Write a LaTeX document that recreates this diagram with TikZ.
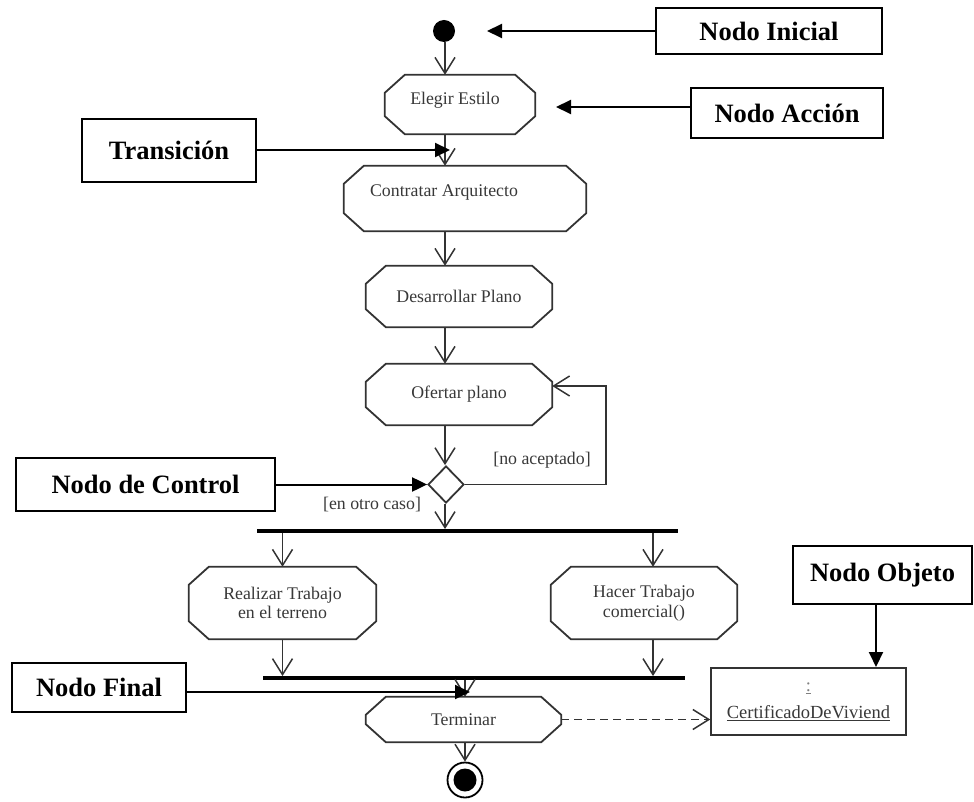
\documentclass[tikz,border=0pt]{standalone}
\usepackage{fontspec}
\setmainfont{Liberation Serif}
\usetikzlibrary{arrows.meta,shapes.geometric,calc}

\definecolor{umlline}{HTML}{333333}
\definecolor{umltext}{HTML}{383838}

\tikzset{
  actbox/.style={draw=none, inner sep=0pt, align=center, text=umltext,
    font=\fontsize{17.8}{19.5}\selectfont},
  actline/.style={draw=umlline, line width=1.8pt, line join=miter},
  flow/.style={draw=umlline, line width=1.5pt,
    -{Straight Barb[length=16pt,width=20pt,line width=1.5pt]}},
  pointer/.style={draw=black, line width=2pt,
    -{Triangle[length=15pt,width=14pt]}},
  tagbox/.style={draw=black, line width=2.2pt, inner sep=0pt,
    font=\fontsize{26.5}{30}\bfseries\selectfont},
  bar/.style={fill=black, draw=none, inner sep=0pt, minimum height=3.5pt},
  guard/.style={text=umltext, inner sep=0pt, font=\fontsize{17.8}{19.5}\selectfont},
}

% octagonal outline around a named action node
\newcommand\octframe[1]{%
  \draw[actline]
    ($(#1.north west)+(20,0)$) -- ($(#1.north east)+(-20,0)$)
    -- ($(#1.north east)+(0,18)$) -- ($(#1.south east)+(0,-18)$)
    -- ($(#1.south east)+(-20,0)$) -- ($(#1.south west)+(20,0)$)
    -- ($(#1.south west)+(0,-18)$) -- ($(#1.north west)+(0,18)$) -- cycle;}

\begin{document}
\begin{tikzpicture}[x=1pt,y=-1pt]
\useasboundingbox (0,0) rectangle (974,802);

% ---- activity flow ----
\node[circle, fill=black, inner sep=0pt, minimum size=22pt] (start) at (444,31) {};

\node[actbox, minimum width=150pt, minimum height=59pt] (elegir) at (460,104.5)
  {\raisebox{0pt}[0pt][0pt]{\hspace*{-10pt}Elegir Estilo}};
\node[actbox, minimum width=242pt, minimum height=65pt] (contratar) at (465,198.5)
  {\raisebox{2pt}[0pt][0pt]{\hspace*{-42pt}Contratar Arquitecto}};
\node[actbox, minimum width=186pt, minimum height=61pt] (desarrollar) at (459,296.5) {Desarrollar Plano};
\node[actbox, minimum width=186pt, minimum height=61pt] (ofertar) at (459,394.5) {Ofertar plano};
\octframe{elegir}
\octframe{contratar}
\octframe{desarrollar}
\octframe{ofertar}

\node[diamond, draw=umlline, line width=1.8pt, inner sep=0pt,
      minimum width=36pt, minimum height=37pt] (dec) at (446,484.5) {};

\node[bar, minimum width=421pt] (fork) at (467.5,531) {};
\node[actbox, minimum width=187pt, minimum height=72pt] (realizar) at (282.5,603) {Realizar Trabajo\\en el terreno};
\node[actbox, minimum width=186pt, minimum height=72pt] (hacer) at (644,603) {Hacer Trabajo\\comercial()};
\octframe{realizar}
\octframe{hacer}
\node[bar, minimum width=422pt] (join) at (474,678) {};

\node[actbox, minimum width=195pt, minimum height=45pt] (terminar) at (463.5,719.5) {Terminar};
\octframe{terminar}

\node[circle, draw=black, line width=1.8pt, inner sep=0pt, minimum size=35pt] (final) at (465,780) {};
\fill[black] (final.center) circle (11.5pt);

\node[draw=umlline, line width=1.5pt, minimum width=195pt, minimum height=67pt,
      inner sep=0pt, align=center, text=umltext,
      font=\fontsize{18.5}{27}\selectfont] (cert) at (808.5,701.5)
      {{\color{gray}\underline{:}}\\\underline{CertificadoDeViviend}};

% axis helpers
\coordinate (ax) at (445,0);
\coordinate (rx) at (653,0);
\coordinate (loopc) at (606,386);

\draw[flow] (start.south -| ax) -- (elegir.north -| ax);
\draw[flow] (elegir.south -| ax) -- (contratar.north -| ax);
\draw[flow] (contratar.south -| ax) -- (desarrollar.north -| ax);
\draw[flow] (desarrollar.south -| ax) -- (ofertar.north -| ax);
\draw[flow] (ofertar.south -| ax) -- (dec.north -| ax);
\draw[flow] (dec.east) -| (loopc) -- (ofertar.east |- loopc);
\draw[flow] (dec.south -| ax) -- (fork.north -| ax);
\draw[flow] (fork.south -| realizar.north) -- (realizar.north);
\draw[flow] (fork.south -| rx) -- (hacer.north -| rx);
\draw[flow] (realizar.south) -- (join.north -| realizar.south);
\draw[flow] (hacer.south -| rx) -- (join.north -| rx);
\draw[flow] (join.south -| final.north) -- (terminar.north -| final.north);
\draw[flow] (terminar.south -| final.north) -- (final.north);
\draw[flow, dash pattern=on 8pt off 5pt] (terminar.east) -- (cert.west |- terminar.east);

\node[guard] (noacep) at (542,460) {[no aceptado]};
\node[guard] (otro) at (372,505) {[en otro caso]};

% ---- annotation labels ----
\node[tagbox, minimum width=226pt, minimum height=46pt] (tagInicial) at (769,31) {Nodo Inicial};
\node[tagbox, minimum width=192pt, minimum height=50pt] (tagAccion) at (787,113) {Nodo Acción};
\node[tagbox, minimum width=174pt, minimum height=63pt] (tagTrans) at (169,150.5) {Transición};
\node[tagbox, minimum width=259pt, minimum height=53pt] (tagControl) at (145.5,484.5) {Nodo de Control};
\node[tagbox, minimum width=174pt, minimum height=49pt] (tagFinal) at (99,687.5) {Nodo Final};
\node[tagbox, minimum width=179pt, minimum height=58pt] (tagObjeto) at (882.5,575) {Nodo Objeto};

\coordinate (tipI) at (487,31);
\coordinate (tipA) at (556,107);
\coordinate (tipT) at (450,150);
\coordinate (tipF) at (470,692);
\coordinate (tipO) at (876,667);

\draw[pointer] (tagInicial.west) -- (tipI);
\draw[pointer] (tagAccion.west |- tipA) -- (tipA);
\draw[pointer] (tagTrans.east |- tipT) -- (tipT);
\draw[pointer] (tagControl.east |- dec.west) -- (dec.west);
\draw[pointer] (tagFinal.east |- tipF) -- (tipF);
\draw[pointer] (tagObjeto.south -| tipO) -- (tipO);
\end{tikzpicture}
\end{document}
